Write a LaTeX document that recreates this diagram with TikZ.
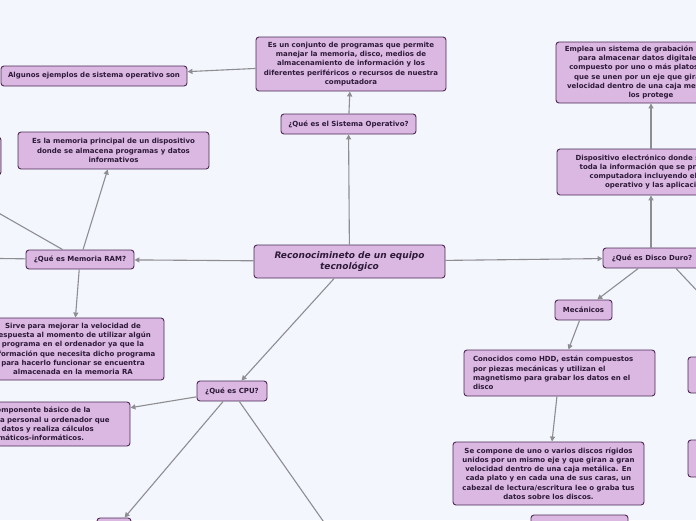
\documentclass[tikz,border=0pt]{standalone}
\usepackage{fontspec}
\setmainfont{DejaVu Sans}
\usetikzlibrary{arrows.meta}
\definecolor{bgcol}{HTML}{F3F6FD}
\definecolor{bxfill}{HTML}{DAB8E2}
\definecolor{bxborder}{HTML}{4E2A57}
\definecolor{bxtext}{HTML}{2E1A38}
\definecolor{lncol}{HTML}{8D8D92}
\newcommand{\bxfont}{\fontsize{7}{9.3}\selectfont\bfseries}
\newcommand{\mainfont}{\fontsize{9}{11}\selectfont\bfseries\itshape}
\begin{document}
\begin{tikzpicture}[x=1pt,y=-1pt,
  box/.style={draw=bxborder, fill=bxfill, rounded corners=3pt, line width=0.9pt,
    text=bxtext, font=\bxfont, inner sep=0pt, align=center},
  conn/.style={draw=lncol, line width=1.1pt},
  arr/.style={conn, -{Triangle[length=5pt,width=5pt]}}]
\fill[bgcol] (0,0) rectangle (696,520);
\useasboundingbox (0,0) rectangle (696,520);

% nodes
\node[box, font=\mainfont, minimum width=191pt, minimum height=33pt] (central) at (349.5,261.5)
  {Reconocimineto de un equipo\\tecnológico};
\node[box, minimum width=135pt, minimum height=20pt] (so) at (348.5,124) {¿Qué es el Sistema Operativo?};
\node[box, minimum width=190pt, minimum height=54pt] (sodesc) at (351,64)
  {Es un conjunto de programas que permite\\manejar la memoria, disco, medios de\\almacenamiento de información y los\\diferentes periféricos o recursos de nuestra\\computadora};
\node[box, minimum width=186pt, minimum height=20pt] (algunos) at (94,76) {Algunos ejemplos de sistema operativo son};

\node[box, minimum width=108pt, minimum height=19pt] (ram) at (80,259.5) {¿Qué es Memoria RAM?};
\node[box, minimum width=191pt, minimum height=37pt] (ramdesc) at (113.5,150.5)
  {Es la memoria principal de un dispositivo\\donde se almacena programas y datos\\informativos};
\node[box, minimum width=151pt, minimum height=38pt] (leftbox) at (-74.5,156) {};
\node[box, minimum width=182pt, minimum height=62pt] (sirve) at (73,349)
  {Sirve para mejorar la velocidad de\\respuesta al momento de utilizar algún\\programa en el ordenador ya que la\\información que necesita dicho programa\\para hacerlo funcionar se encuentra\\almacenada en la memoria RA};

\node[box, minimum width=70pt, minimum height=20pt] (cpu) at (232,391) {¿Qué es CPU?};
\node[box, minimum width=198pt, minimum height=44pt] (cpudesc) at (31,424)
  {Es el componente básico de la\\computadora personal u ordenador que\\procesa datos y realiza cálculos\\matemáticos-informáticos.};
\node[box, minimum width=34pt, minimum height=24pt] (cpubl) at (114,530) {};
\coordinate (cpuoff) at (342,548);

\node[box, minimum width=98pt, minimum height=20pt] (dd) at (652,258) {¿Qué es Disco Duro?};
\node[box, minimum width=206pt, minimum height=46pt] (dddesc) at (660,172)
  {Dispositivo electrónico donde se almacena\\toda la información que se procesa en la\\computadora incluyendo el sistema\\operativo y las aplicaciones};
\node[box, minimum width=190pt, minimum height=61pt] (emplea) at (651,72.5)
  {Emplea un sistema de grabación magnética\\para almacenar datos digitales. Está\\compuesto por uno o más platos o discos\\que se unen por un eje que gira a gran\\velocidad dentro de una caja metálica que\\los protege};
\node[box, minimum width=57pt, minimum height=20pt] (meca) at (583.5,310) {Mecánicos};
\node[box, align=left, text width=173pt, inner xsep=9pt, minimum width=191pt, minimum height=46pt] (conoc) at (559.5,373)
  {Conocidos como HDD, están compuestos\\por piezas mecánicas y utilizan el\\magnetismo para grabar los datos en el\\disco};
\node[box, minimum width=191pt, minimum height=63pt] (secomp) at (548.5,473.5)
  {Se compone de uno o varios discos rígidos\\unidos por un mismo eje y que giran a gran\\velocidad dentro de una caja metálica. En\\cada plato y en cada una de sus caras, un\\cabezal de lectura/escritura lee o graba tus\\datos sobre los discos.};
\node[box, minimum width=97pt, minimum height=26pt] (botbox) at (579.5,528) {};
\node[box, minimum width=112pt, minimum height=36pt] (right1) at (744,375) {};
\node[box, minimum width=112pt, minimum height=37pt] (right2) at (744,458.5) {};
\coordinate (ddoff) at (736,332);
\coordinate (ramoff1) at (-40,258);
\coordinate (ramoff2) at (-40,191);

% connectors
\draw[arr] (central) -- (so);
\draw[arr] (so) -- (sodesc);
\draw[arr] (sodesc) -- (algunos);
\draw[arr] (central) -- (ram);
\draw[arr] (ram) -- (ramdesc);
\draw[arr] (ram) -- (sirve);
\draw[arr] (ram) -- (ramoff1);
\draw[arr] (ram) -- (ramoff2);
\draw[arr] (central) -- (cpu);
\draw[arr] (cpu) -- (cpudesc);
\draw[arr] (cpu) -- (cpubl);
\draw[arr] (cpu) -- (cpuoff);
\draw[arr] (central) -- (dd);
\draw[arr] ([xshift=-1pt]dd.north) -- ([xshift=-1pt]dd.north |- dddesc.south);
\draw[arr] (dddesc.north -| emplea.south) -- (emplea.south);
\draw[arr] (dd) -- (meca);
\draw[arr] ([xshift=24pt]dd.south) -- (ddoff);
\draw[arr] (meca) -- (conoc);
\draw[arr] (conoc) -- (secomp);
\end{tikzpicture}
\end{document}
